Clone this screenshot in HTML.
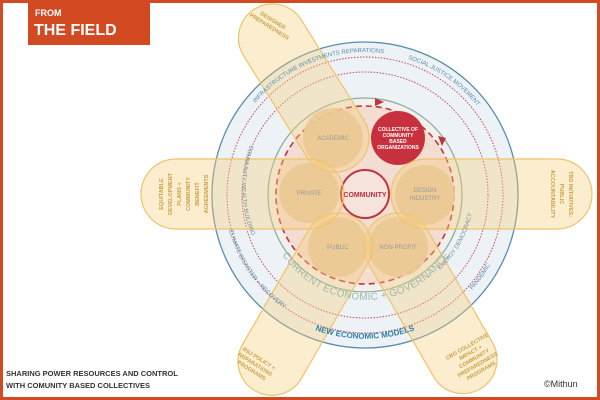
<!DOCTYPE html>
<html><head><meta charset="utf-8"><style>
html,body{margin:0;padding:0;background:#fff}
svg{display:block}
text{font-family:"Liberation Sans",sans-serif}
</style></head><body>
<svg width="600" height="400" viewBox="0 0 600 400" xmlns="http://www.w3.org/2000/svg">
<defs>
<path id="pTopL" d="M 255.5 103 A 143 143 0 0 1 398 56"/>
<path id="pTopR" d="M 408 59 A 143 143 0 0 1 484 115"/>
<path id="pCWB" d="M 250 145 A 118 118 0 0 0 268 262"/>
<path id="pClim" d="M 229 230 A 140 140 0 0 0 290 312"/>
<path id="pEnergy" d="M 440 270 A 112 112 0 0 0 472 165"/>
<path id="pPand" d="M 472 290 A 143 143 0 0 0 503 235"/>
<path id="pCur" d="M 270 228 A 100 100 0 0 0 462 228"/>
<path id="pNew" d="M 240 270 A 148 148 0 0 0 490 270"/>
</defs>
<rect x="0" y="0" width="600" height="400" fill="#d34a22"/>
<rect x="3" y="3" width="594" height="394" fill="#fff"/>
<rect x="28" y="3" width="122" height="42" fill="#d34a22"/>
<text x="35" y="16" font-size="9" font-weight="bold" fill="#fff">FROM</text>
<text x="34" y="35" font-size="16" font-weight="bold" fill="#fff">THE FIELD</text>

<circle cx="365" cy="195" r="153" fill="#edf2f6" stroke="#5a8cab" stroke-width="1.3"/>
<circle cx="365" cy="195" r="138" fill="none" stroke="#c8485a" stroke-width="1" stroke-dasharray="1.5 1.5"/>
<circle cx="365" cy="195" r="123" fill="none" stroke="#c8485a" stroke-width="1" stroke-dasharray="1.5 1.5"/>
<circle cx="365" cy="195" r="97" fill="#f1f0ee" stroke="#8fae9f" stroke-width="1.3"/>
<circle cx="365" cy="195" r="89" fill="#f3ddd3"/>
<circle cx="365" cy="195" r="89" fill="none" stroke="#c0343c" stroke-width="1.6" stroke-dasharray="6 4"/>
<path d="M 375 98 L 384 102 L 375 106 Z" fill="#c0343c"/>
<path d="M 438 136 L 446 138 L 442 146 Z" fill="#c0343c"/>

<g fill="#e6c6a4" opacity="0.9">
<circle cx="333" cy="138" r="30"/>
<circle cx="309" cy="193" r="30"/>
<circle cx="425" cy="195" r="30"/>
<circle cx="338" cy="247" r="30"/>
<circle cx="398" cy="247" r="30"/>
</g>
<circle cx="398" cy="138" r="27" fill="#c7303c"/>
<circle cx="365" cy="194" r="24" fill="#f6e3dc" stroke="#c0343c" stroke-width="2"/>

<g fill="rgba(247,205,120,0.36)" stroke="#eec36a" stroke-width="1.2">
<rect x="0" y="-34" width="186" height="68" rx="34" transform="translate(335,138) rotate(-122) translate(-34,0)"/>
<rect x="0" y="-34" width="198" height="68" rx="34" transform="translate(398,247) rotate(60) translate(-34,0)"/>
<rect x="0" y="-34" width="200" height="68" rx="34" transform="translate(338,247) rotate(120) translate(-34,0)"/>
<rect x="141" y="159" width="203" height="70" rx="35"/>
<rect x="391" y="159" width="201" height="70" rx="35"/>
</g>

<g font-size="6" fill="#999" text-anchor="middle">
<text x="333" y="140">ACADEMIC</text>
<text x="309" y="195">PRIVATE</text>
<text x="425" y="192">DESIGN</text>
<text x="425" y="200">INDUSTRY</text>
<text x="338" y="249">PUBLIC</text>
<text x="398" y="249">NON-PROFIT</text>
</g>
<g font-size="5" fill="#fff" text-anchor="middle" font-weight="bold">
<text x="398" y="131">COLLECTIVE OF</text>
<text x="398" y="137">COMMUNITY</text>
<text x="398" y="143">BASED</text>
<text x="398" y="149">ORGANIZATIONS</text>
</g>
<text x="365" y="197" font-size="7" font-weight="bold" fill="#b83040" text-anchor="middle">COMMUNITY</text>

<g font-size="6" fill="#5a8cab">
<text><textPath href="#pTopL">INFRASTRUCTURE INVESTMENTS REPARATIONS</textPath></text>
<text><textPath href="#pTopR">SOCIAL JUSTICE MOVEMENT</textPath></text>
<text><textPath href="#pClim">CLIMATE DISASTER + RECOVERY</textPath></text>
<text><textPath href="#pPand">PANDEMIC</textPath></text>
</g>
<g font-size="6" fill="#7a8e98">
<text><textPath href="#pCWB">COMMUNITY WEALTH BUILDING</textPath></text>
<text><textPath href="#pEnergy">ENERGY DEMOCRACY</textPath></text>
</g>
<text font-size="10" fill="#9fb7aa" letter-spacing="0.3"><textPath href="#pCur" startOffset="50%" text-anchor="middle">CURRENT ECONOMIC + GOVERNANCE</textPath></text>
<text font-size="8" font-weight="bold" fill="#2e80a8"><textPath href="#pNew" startOffset="50%" text-anchor="middle">NEW ECONOMIC MODELS</textPath></text>

<g font-size="5.5" fill="#c9a046" font-weight="bold" text-anchor="middle">
<g transform="translate(272,22) rotate(32)">
<text x="0" y="0">DESIGNER</text><text x="0" y="7">PREPAREDNESS</text></g>
<g transform="translate(258,360) rotate(32)">
<text x="0" y="0">RSJ POLICY +</text><text x="0" y="7">REPARATIONS</text><text x="0" y="14">PROGRAMS</text></g>
<g transform="translate(468,348) rotate(-30)">
<text x="0" y="0">CBO COLLECTIVE</text><text x="0" y="7">IMPACT +</text><text x="0" y="14">COMMUNITY</text><text x="0" y="21">PREPAREDNESS</text><text x="0" y="28">PROGRAMS</text></g>
<g transform="translate(163,194) rotate(-90)">
<text x="0" y="0">EQUITABLE</text><text x="0" y="9">DEVELOPMENT</text><text x="0" y="18">PLANS +</text><text x="0" y="27">COMMUNITY</text><text x="0" y="36">BENEFIT</text><text x="0" y="45">AGREEMENTS</text></g>
<g transform="translate(569,194) rotate(90)">
<text x="0" y="0">TBD INITIATIVES:</text><text x="0" y="9">PUBLIC</text><text x="0" y="18">ACCOUNTABILITY</text></g>
</g>

<text x="6" y="376" font-size="7.5" fill="#333" font-weight="bold">SHARING POWER RESOURCES AND CONTROL</text>
<text x="6" y="388" font-size="7.5" fill="#333" font-weight="bold">WITH COMUNITY BASED COLLECTIVES</text>
<text x="544" y="387" font-size="9" fill="#333">©Mithun</text>
</svg>
</body></html>
